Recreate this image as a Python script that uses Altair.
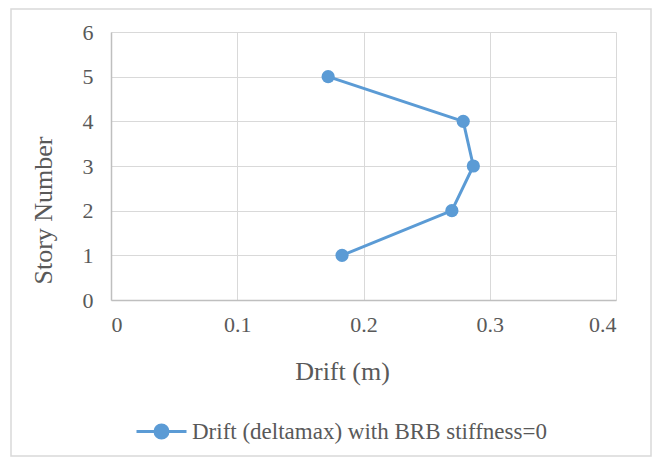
import altair as alt
import pandas as pd

story = [5, 4, 3, 2, 1]
drift = [0.172, 0.279, 0.287, 0.270, 0.183]
series_name = "Drift (deltamax) with BRB stiffness=0"
x_ticks = [0, 0.1, 0.2, 0.3, 0.4]
y_ticks = [0, 1, 2, 3, 4, 5, 6]

df = pd.DataFrame({"drift": drift, "story": story, "series": [series_name] * len(story)})

BLUE = "#5B9BD5"
FONT = "Liberation Serif"

legend_symbol = "M -1 0 L 1 0 M 0.26 0 A 0.26 0.26 0 1 1 -0.26 0 A 0.26 0.26 0 1 1 0.26 0 Z"

line = alt.Chart(df).mark_line(
    strokeWidth=3,
    point=alt.OverlayMarkDef(filled=True, size=175, color=BLUE, opacity=1),
).encode(
    x=alt.X("drift:Q",
            scale=alt.Scale(domain=[0, 0.4], nice=False),
            axis=alt.Axis(values=x_ticks, format="~g", title="Drift (m)",
                          titleX=231, titleY=71, titleBaseline="middle",
                          labelPadding=14, titleFontSize=26)),
    y=alt.Y("story:Q",
            scale=alt.Scale(domain=[0, 6], nice=False),
            axis=alt.Axis(values=y_ticks, title="Story Number",
                          titleX=-68, titleY=178, titleAngle=-90,
                          titleAlign="center", titleBaseline="middle",
                          labelPadding=18, titleFontSize=26)),
    order=alt.Order("story:Q", sort="descending"),
    color=alt.Color("series:N",
                    scale=alt.Scale(domain=[series_name], range=[BLUE]),
                    legend=alt.Legend(title=None, orient="none", legendX=24, legendY=373,
                                      symbolType=legend_symbol, symbolSize=2500,
                                      symbolStrokeWidth=3, symbolFillColor=BLUE,
                                      symbolStrokeColor=BLUE, labelFontSize=23,
                                      labelFont=FONT, labelColor="#595959",
                                      labelOffset=4, labelLimit=600)),
)

border = alt.Chart(pd.DataFrame({"k": [0]})).mark_rect(
    fill=None, stroke="#D9D9D9", strokeWidth=1.5
).encode(
    x=alt.value(-100), x2=alt.value(540), y=alt.value(-23), y2=alt.value(424)
)

chart = alt.layer(border, line).properties(
    width=505, height=268,
    autosize=alt.AutoSizeParams(type="none"),
    padding={"left": 103, "top": 24, "right": 36, "bottom": 157},
).configure(
    background="white",
).configure_axis(
    labelFont=FONT, titleFont=FONT, labelFontSize=22,
    labelColor="#595959", titleColor="#595959",
    titleFontWeight="normal",
    gridColor="#D9D9D9", gridWidth=1,
    domainColor="#BFBFBF", domainWidth=1.5,
    ticks=False,
).configure_view(
    stroke=None,
)

chart.save("out.html", embed_options={"renderer": "svg", "actions": False})
